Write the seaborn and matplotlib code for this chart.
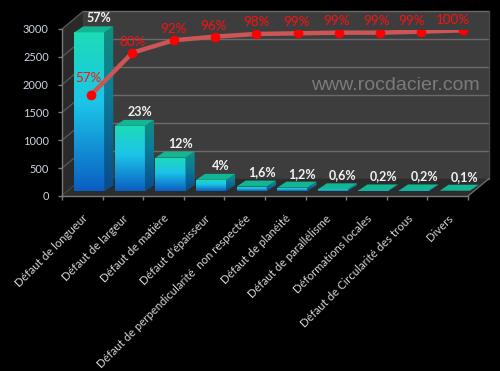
import numpy as np
import pandas as pd
import matplotlib
matplotlib.use("Agg")
import matplotlib.pyplot as plt
import seaborn as sns
from matplotlib.patches import Polygon
from matplotlib.colors import LinearSegmentedColormap

# ---------------- data ----------------
categories = ["Défaut de longueur", "Défaut de largeur", "Défaut de matière",
              "Défaut d'épaisseur", "Défaut de perpendicularité  non respectée",
              "Défaut de planéité", "Défaut de parallélisme", "Déformations locales",
              "Défaut de Circularité des trous", "Divers"]
counts = [2850, 1170, 600, 200, 80, 60, 30, 10, 10, 5]
bar_labels = ["57%", "23%", "12%", "4%", "1,6%", "1,2%", "0,6%", "0,2%", "0,2%", "0,1%"]
cum_line = [60.8, 86.3, 93.8, 96.0, 97.6, 98.0, 98.4, 98.4, 99.0, 99.8]
cum_labels = ["57%", "80%", "92%", "96%", "98%", "99%", "99%", "99%", "99%", "100%"]
yticks = [0, 500, 1000, 1500, 2000, 2500, 3000]
watermark = "www.rocdacier.com"

# ---------------- style ----------------
sns.set_style("dark")
plt.rcParams["font.family"] = ["Lato", "DejaVu Sans"]

W, H = 500, 371
fig = plt.figure(figsize=(W / 100, H / 100), dpi=100, facecolor="black")


def rect(l, t, r, b):
    return [l / W, 1 - b / H, (r - l) / W, (b - t) / H]


# front plane axes (walls, ticks)
FL, FT, FR, FB = 62, 29, 468, 196
ax = fig.add_axes(rect(FL, FT, FR, FB))
ax.set_facecolor("none")
ax.set_xlim(-0.5, 9.5)
ax.set_ylim(0, 3000)
px_x = (FR - FL) / 10.0
px_y = (FB - FT) / 3000.0
dxw, dyw = 21 / px_x, 17.5 / px_y  # wall depth in data units

x0w, x1w = -0.5, 9.5
left_wall = Polygon([(x0w, 0), (x0w + dxw, dyw), (x0w + dxw, 3000 + dyw), (x0w, 3000)],
                    closed=True, facecolor="#2a2a2a", edgecolor="none", clip_on=False, zorder=0)
back_wall = Polygon([(x0w + dxw, dyw), (x1w + dxw, dyw), (x1w + dxw, 3000 + dyw), (x0w + dxw, 3000 + dyw)],
                    closed=True, facecolor="#3d3d3d", edgecolor="none", clip_on=False, zorder=0)
floor = Polygon([(x0w, 0), (x1w, 0), (x1w + dxw, dyw), (x0w + dxw, dyw)],
                closed=True, facecolor="#2c2c2c", edgecolor="none", clip_on=False, zorder=0.5)
for p in (left_wall, back_wall, floor):
    ax.add_patch(p)
grid_c = "#6a6a6a"
for v in yticks:
    ax.plot([x0w + dxw, x1w + dxw], [v + dyw, v + dyw], color=grid_c, lw=1.0, clip_on=False, zorder=0.3)
    ax.plot([x0w, x0w + dxw], [v, v + dyw], color="#555555", lw=1.0, clip_on=False, zorder=0.3)
ax.plot([x1w + dxw, x1w + dxw], [dyw, 3000 + dyw], color="#4a4a4a", lw=1.0, clip_on=False, zorder=0.3)
ax.plot([x1w, x1w + dxw], [0, dyw], color="#6a6a6a", lw=1.0, clip_on=False, zorder=0.6)

for s in ("top", "right"):
    ax.spines[s].set_visible(False)
for s in ("left", "bottom"):
    ax.spines[s].set_color("#7a7a7a")
    ax.spines[s].set_linewidth(1.0)
    ax.spines[s].set_zorder(0.7)
ax.set_yticks(yticks)
ax.set_yticklabels([str(v) for v in yticks])
ax.tick_params(axis="y", colors="#7a7a7a", labelcolor="#cfd6e2", labelsize=7.9,
               length=3, width=1, pad=6.5, left=True)
ax.set_xticks(range(len(categories)))
ax.set_xticklabels(categories, rotation=45, ha="right", va="top", rotation_mode="anchor")
ax.set_xticks(np.arange(-0.5, 10, 1.0), minor=True)
ax.tick_params(axis="x", which="major", length=0, pad=12, labelcolor="#d6d6d6", labelsize=8.2)
ax.tick_params(axis="x", which="minor", length=3, width=1, color="#7a7a7a", bottom=True)
ax.grid(False)

fig.text(395 / W, 1 - 85 / H, watermark, color="#7b7b7b", fontsize=14,
         family=["Liberation Sans", "DejaVu Sans"], ha="center", va="center")

# ---------------- bars ----------------
ax_b = fig.add_axes(rect(FL + 7, FT - 5, FR + 7, FB - 5))
ax_b.set_facecolor("none")
df = pd.DataFrame({"cat": categories, "count": counts})
sns.barplot(data=df, x="cat", y="count", order=categories, ax=ax_b, width=0.74,
            color="#1cc6e6", saturation=1, linewidth=0, errorbar=None)
dxb, dyb = 9 / px_x, 6 / px_y

front_cmap = LinearSegmentedColormap.from_list(
    "front", [(0.0, "#0a5ec2"), (0.55, "#1cc4e8"), (1.0, "#1ddcb6")])
side_cmap = LinearSegmentedColormap.from_list(
    "side", [(0.0, "#0a4a8e"), (0.6, "#0c7d98"), (1.0, "#0f8f7c")])
grad = np.linspace(1, 0, 256).reshape(-1, 1)

for i, p in enumerate(ax_b.patches):
    x0, w, h = p.get_x(), p.get_width(), p.get_height()
    im = ax_b.imshow(grad, extent=[x0, x0 + w, 0, h], aspect="auto", cmap=front_cmap,
                     interpolation="bicubic", zorder=2)
    im.set_clip_path(p)
    side = Polygon([(x0 + w, 0), (x0 + w + dxb, dyb), (x0 + w + dxb, h + dyb), (x0 + w, h)],
                   closed=True, facecolor="#0c6f90", edgecolor="none", clip_on=False, zorder=2)
    ax_b.add_patch(side)
    ims = ax_b.imshow(grad, extent=[x0 + w, x0 + w + dxb, 0, h + dyb], aspect="auto",
                      cmap=side_cmap, interpolation="bicubic", zorder=2.1)
    ims.set_clip_path(side)
    top = Polygon([(x0, h), (x0 + w, h), (x0 + w + dxb, h + dyb), (x0 + dxb, h + dyb)],
                  closed=True, facecolor="#12b695", edgecolor="none", clip_on=False, zorder=2.2)
    ax_b.add_patch(top)
    ax_b.annotate(bar_labels[i], (x0 + w / 2 + dxb, h + dyb), xytext=(1, 8),
                  textcoords="offset pixels", ha="center", va="center", color="#f2f2f2",
                  fontsize=9, fontweight="bold", zorder=5, annotation_clip=False)
ax_b.set_xlim(-0.5, 9.5)
ax_b.set_ylim(0, 3000)
ax_b.axis("off")

# ---------------- cumulative line ----------------
ax_l = fig.add_axes(rect(70.35, 30, 483.35, 196))
ax_l.set_facecolor("none")
sns.lineplot(x=np.arange(len(cum_line)), y=cum_line, ax=ax_l, color="#cc5656", lw=3.2,
             marker="o", markersize=6.5, markerfacecolor="#ff0000", markeredgecolor="#ff0000",
             markeredgewidth=0.5)
ax_l.set_xlim(-0.5, 9.5)
ax_l.set_ylim(0, 100)
ax_l.axis("off")
lab_dx = [-3, 0, 0, -1, 0, -1, -2, -4, -10, -10]
lab_dy = [17, 11, 11, 11, 11.5, 11, 11.5, 11.5, 10.5, 10.5]
for i, v in enumerate(cum_line):
    ax_l.annotate(cum_labels[i], (i, v), xytext=(lab_dx[i], lab_dy[i]), textcoords="offset pixels",
                  ha="center", va="center", color="#ff1010", fontsize=9.6, zorder=6,
                  annotation_clip=False)

fig.savefig("out.png", dpi=100, facecolor="black")
